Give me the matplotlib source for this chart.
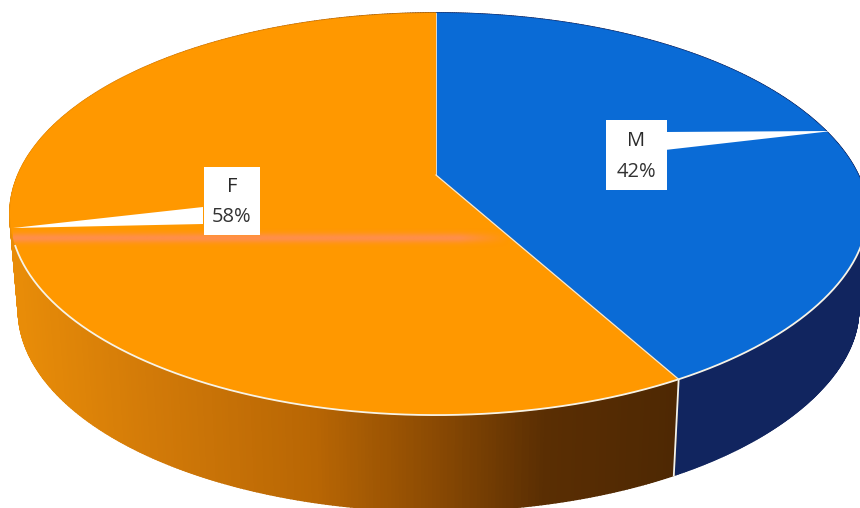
import numpy as np
import matplotlib
matplotlib.use("Agg")
import matplotlib.pyplot as plt
from matplotlib.collections import PolyCollection
from matplotlib.patches import Polygon, Rectangle
from matplotlib.colors import LinearSegmentedColormap

# data
categories = ["M", "F"]
shares = [42, 58]
percent_labels = ["42%", "58%"]

# style
top_colors = ["#0A6BD6", "#FF9800"]
side_blue = "#11255F"
side_orange_stops = [(0.0, "#E88C08"), (0.2, "#D27A08"), (0.45, "#B86604"),
                     (0.62, "#8E4C03"), (0.8, "#5A2E03"), (1.0, "#4E2803")]
CX, CY, A, B, K = 436.0, 175.0, 418.0, 193.5, 0.194
DEPTH, BOTTOM_SCALE = 96.0, 0.98

plt.rcParams["font.family"] = ["Open Sans", "DejaVu Sans"]
fig = plt.figure(figsize=(8.6, 5.08), dpi=100)
ax = fig.add_axes([0, 0, 1, 1])
ax.set_xlim(0, 860)
ax.set_ylim(508, 0)
ax.axis("off")


def project(theta, r=1.0, depth=0.0, sx=1.0):
    """Clockwise angle from the top of a unit disc to picture coordinates."""
    theta = np.asarray(theta, dtype=float)
    u, v = r * np.sin(theta), r * np.cos(theta)
    w = 1 + K * v
    bulge = 1 + 0.012 * np.exp(-((theta - np.radians(100)) / np.radians(25)) ** 2)
    return CX + sx * A * bulge * u / w, CY - B * v / w + depth


edges = 2 * np.pi * np.concatenate([[0], np.cumsum(shares)]) / np.sum(shares)
orange_map = LinearSegmentedColormap.from_list("side", side_orange_stops)

# side wall
for i, cat in enumerate(categories):
    th = np.linspace(edges[i], edges[i + 1], 500)
    x0, y0 = project(th)
    x1, y1 = project(th, depth=DEPTH, sx=BOTTOM_SCALE)
    quads = [[(x0[j], y0[j]), (x0[j + 1], y0[j + 1]), (x1[j + 1], y1[j + 1]), (x1[j], y1[j])]
             for j in range(len(th) - 1)]
    if cat == "F":
        xm = (x0[:-1] + x0[1:]) / 2
        xr = project(edges[1])[0]
        colors = [orange_map(np.clip((x - 15) / (xr - 15), 0, 1)) for x in xm]
    else:
        colors = [side_blue] * len(quads)
    ax.add_collection(PolyCollection(quads, facecolors=colors, edgecolors=colors, linewidths=1.2, zorder=1))

# divider on the wall
bx0, by0 = project(edges[1])
bx1, by1 = project(edges[1], depth=DEPTH, sx=BOTTOM_SCALE)
ax.plot([bx0, bx1], [by0, by1], color="#F2F2EC", lw=1.3, zorder=2)

# top face
top_patch = None
for i, cat in enumerate(categories):
    th = np.linspace(edges[i], edges[i + 1], 400)
    x, y = project(th)
    pts = np.vstack([[CX, CY], np.column_stack([x, y])])
    p = Polygon(pts, closed=True, facecolor=top_colors[i], edgecolor=top_colors[i], lw=0.4, zorder=3)
    ax.add_patch(p)
    if cat == "F":
        top_patch = p

# white rim along the front and wedge border
th = np.linspace(np.radians(104), np.radians(250), 400)
x, y = project(th)
ax.plot(x, y, color="#F7F3E6", lw=1.3, zorder=4)
ax.plot([CX, bx0], [CY, by0], color="#F4E9D6", lw=0.9, zorder=4)
ax.plot([CX, CX], [CY, project(0.0)[1]], color="#F4E9D6", lw=0.6, zorder=4)

# faint pink scan stripe over the orange slice
xs = np.linspace(0, 1, 256)
ys = np.linspace(-1, 1, 32)
grad = np.zeros((32, 256, 4))
grad[..., :3] = matplotlib.colors.to_rgb("#FF8A78")
grad[..., 3] = (np.exp(-(ys / 0.5) ** 2)[:, None] * np.clip((1 - xs) / 0.1, 0, 1)[None, :]) * 0.62
im = ax.imshow(grad, extent=[13, 510, 248, 228], aspect="auto", zorder=5, interpolation="bilinear")
im.set_clip_path(top_patch)
ax.set_xlim(0, 860)
ax.set_ylim(508, 0)

# data labels with leaders
label_boxes = {"M": (606, 120, 61, 70), "F": (204, 167, 56, 68)}
leaders = {"M": [(832, 131), (665, 132), (665, 150)], "F": [(13, 228), (203, 207), (203, 224)]}
for cat, pct in zip(categories, percent_labels):
    ax.add_patch(Polygon(leaders[cat], closed=True, facecolor="white", edgecolor="none", zorder=6))
    bx, by, bw, bh = label_boxes[cat]
    ax.add_patch(Rectangle((bx, by), bw, bh, facecolor="white", edgecolor="none", zorder=6))
    ax.text(bx + bw / 2, by + bh * 0.30, cat, ha="center", va="center", fontsize=14.5, color="#2A2A2A", zorder=7)
    ax.text(bx + bw / 2, by + bh * 0.74, pct, ha="center", va="center", fontsize=14.5, color="#333333", zorder=7)

fig.savefig("out.png", dpi=100, facecolor="white")
